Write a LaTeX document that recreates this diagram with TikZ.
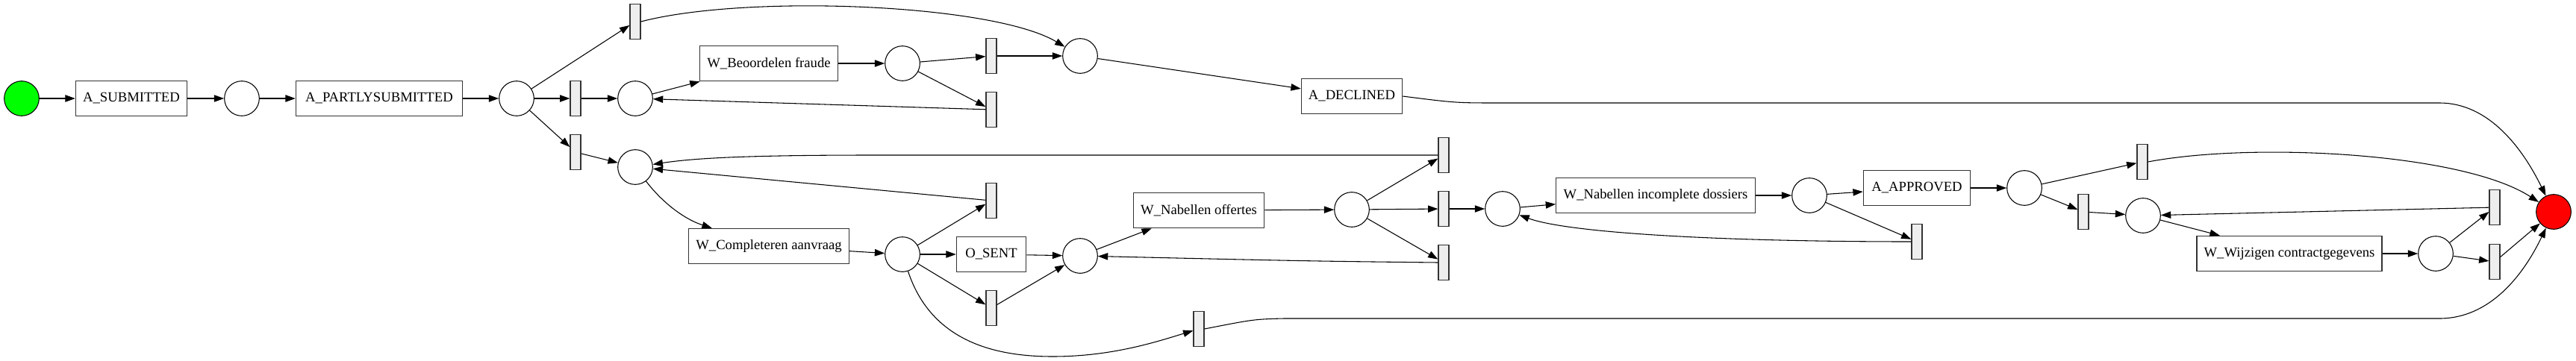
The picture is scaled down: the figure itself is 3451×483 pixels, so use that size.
\documentclass[tikz,border=0pt]{standalone}
\usepackage{fontspec}
\setmainfont{Liberation Serif}
\usetikzlibrary{arrows.meta}
\definecolor{tfill}{HTML}{EEEEEE}
\definecolor{startgreen}{HTML}{00FF00}
\definecolor{endred}{HTML}{FF0000}
\tikzset{
  place/.style={circle, draw=black, line width=0.8pt, minimum size=35pt, inner sep=0pt},
  trans/.style={rectangle, draw=black!80, fill=tfill, line width=0.9pt, minimum width=10.5pt, minimum height=35.5pt, inner sep=0pt},
  task/.style={rectangle, draw=black!80, line width=0.9pt, minimum height=35.5pt, inner sep=0pt, font=\fontsize{14}{16}\selectfont},
  arc/.style={-{Triangle[length=10pt,width=7pt]}, line width=0.8pt, draw=black},
}
\begin{document}
\begin{tikzpicture}[x=0.75pt,y=-0.75pt]
\useasboundingbox (0,0) rectangle (3451,483);
% places
\node[place, fill=startgreen] (start) at (29,132) {};
\node[place] (p1) at (324,132) {};
\node[place] (p2) at (692,132) {};
\node[place] (p3) at (851,132) {};
\node[place] (p4) at (851,224) {};
\node[place] (p5) at (1209,85) {};
\node[place] (p6) at (1447,75) {};
\node[place] (p7) at (1209,341) {};
\node[place] (p8) at (1447,343) {};
\node[place] (p9) at (1811,281) {};
\node[place] (p10) at (2013,280) {};
\node[place] (p11) at (2424,262) {};
\node[place] (p12) at (2712,252) {};
\node[place] (p13) at (2871,289) {};
\node[place] (p14) at (3263,340) {};
\node[place, fill=endred] (end) at (3421,284) {};
% tasks
\node[task, minimum width=112pt] (asub) at (176,132) {A\_SUBMITTED};
\node[task, minimum width=167.5pt] (apart) at (508,132) {A\_PARTLYSUBMITTED};
\node[task, minimum width=139pt] (wbeo) at (1030,85) {W\_Beoordelen fraude};
\node[task, minimum width=101.5pt] (adec) at (1811,129) {A\_DECLINED};
\node[task, minimum width=161pt] (wcomp) at (1030,330) {W\_Completeren aanvraag};
\node[task, minimum width=70pt] (osent) at (1328,341) {O\_SENT};
\node[task, minimum width=131.5pt] (wnoff) at (1606,282) {W\_Nabellen offertes};
\node[task, minimum width=200pt] (wninc) at (2218,262) {W\_Nabellen incomplete dossiers};
\node[task, minimum width=107.5pt] (aappr) at (2568,252) {A\_APPROVED};
\node[task, minimum width=186pt] (wwijz) at (3067,340) {W\_Wijzigen contractgegevens};
% transitions
\node[trans] (ttop) at (851,29) {};
\node[trans] (tmid) at (771,132) {};
\node[trans] (tlow) at (771,204) {};
\node[trans] (t5a) at (1328,75) {};
\node[trans] (t5b) at (1328,147) {};
\node[trans] (t7a) at (1328,269) {};
\node[trans] (t7b) at (1328,413) {};
\node[trans] (tbot) at (1606,441) {};
\node[trans] (t9a) at (1934,208) {};
\node[trans] (t9b) at (1934,280) {};
\node[trans] (t9c) at (1934,352) {};
\node[trans] (t11) at (2568,324) {};
\node[trans] (t12a) at (2870,217) {};
\node[trans] (t12b) at (2791,284) {};
\node[trans] (t14a) at (3342,278) {};
\node[trans] (t14b) at (3342,351) {};
% arcs
\draw[arc] (start) -- (asub);
\draw[arc] (asub) -- (p1);
\draw[arc] (p1) -- (apart);
\draw[arc] (apart) -- (p2);
\draw[arc] (p2) -- (ttop);
\draw[arc] (p2) -- (tmid);
\draw[arc] (p2) -- (tlow);
\draw[arc] (tmid) -- (p3);
\draw[arc] (tlow) -- (p4);
\draw[arc] (ttop.east) .. controls (1000,-8) and (1330,5) .. (p6);
\draw[arc] (p3) -- (wbeo);
\draw[arc] (wbeo) -- (p5);
\draw[arc] (p5) -- (t5a);
\draw[arc] (p5) -- (t5b);
\draw[arc] (t5b) -- (p3);
\draw[arc] (t5a) -- (p6);
\draw[arc] (p6) -- (adec);
\draw[arc] (adec.east) .. controls (1950,138) .. (2010,138) -- (3268,138) .. controls (3335,138) and (3380,200) .. (end);
\draw[arc] (p4) .. controls (890,275) and (920,295) .. (wcomp);
\draw[arc] (wcomp) -- (p7);
\draw[arc] (p7) -- (t7a);
\draw[arc] (p7) -- (osent);
\draw[arc] (p7) -- (t7b);
\draw[arc] (p7) .. controls (1245,450) and (1320,478) .. (1410,478) .. controls (1490,478) and (1550,458) .. (tbot);
\draw[arc] (t7a) -- (p4);
\draw[arc] (osent) -- (p8);
\draw[arc] (t7b) -- (p8);
\draw[arc] (p8) -- (wnoff);
\draw[arc] (wnoff) -- (p9);
\draw[arc] (p9) -- (t9a);
\draw[arc] (p9) -- (t9b);
\draw[arc] (p9) -- (t9c);
\draw[arc] (t9a.west) -- (1170,208) .. controls (1000,208) and (930,212) .. (p4);
\draw[arc] (t9b) -- (p10);
\draw[arc] (t9c.west) .. controls (1750,350) .. (p8);
\draw[arc] (p10) -- (wninc);
\draw[arc] (wninc) -- (p11);
\draw[arc] (p11) -- (aappr);
\draw[arc] (p11) -- (t11);
\draw[arc] (t11.west) .. controls (2300,324) and (2100,312) .. (p10);
\draw[arc] (aappr) -- (p12);
\draw[arc] (p12) -- (t12a);
\draw[arc] (p12) -- (t12b);
\draw[arc] (t12a.east) .. controls (3020,190) and (3300,205) .. (end);
\draw[arc] (t12b) -- (p13);
\draw[arc] (p13) -- (wwijz);
\draw[arc] (wwijz) -- (p14);
\draw[arc] (p14) -- (t14a);
\draw[arc] (p14) -- (t14b);
\draw[arc] (t14a) -- (p13);
\draw[arc] (t14b) -- (end);
\draw[arc] (tbot.east) .. controls (1680,428) .. (1720,427) -- (3268,427) .. controls (3335,427) and (3380,370) .. (end);
\end{tikzpicture}
\end{document}
